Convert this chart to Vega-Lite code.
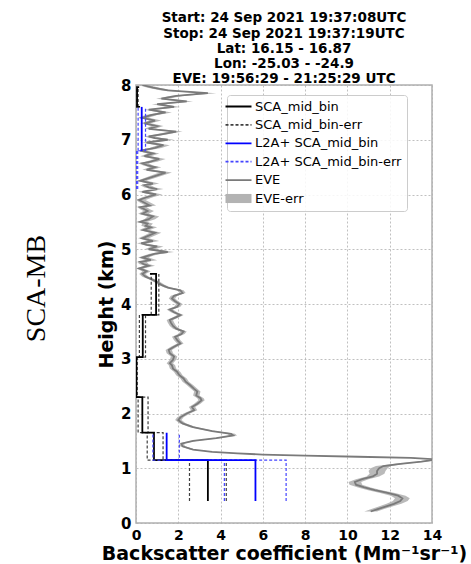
{
"$schema": "https://vega.github.io/schema/vega-lite/v6.json",
"width": 296, "height": 438,
"autosize": {"type": "none"},
"padding": {"left": 136, "top": 85, "right": 39, "bottom": 41},
"background": "white",
"config": {
  "view": {"stroke": "#b0b0b0", "strokeWidth": 1.5},
  "axis": {"labelFont": "DejaVu Sans", "titleFont": "DejaVu Sans", "labelColor": "black", "titleColor": "black"}
},
"title": {"text": ["Start: 24 Sep 2021 19:37:08UTC", "Stop: 24 Sep 2021 19:37:19UTC", "Lat: 16.15 - 16.87", "Lon: -25.03 - -24.9", "EVE: 19:56:29 - 21:25:29 UTC"], "font": "DejaVu Sans", "fontSize": 13.5, "fontWeight": "bold", "lineHeight": 15.3, "anchor": "middle", "frame": "group", "offset": -8, "color": "black"},
"datasets": {
"eve": [
{"h":0.21,"v":11.1,"lo":10.8,"hi":11.4},{"h":0.25,"v":11.4,"lo":11.1,"hi":11.7},{"h":0.30,"v":11.8,"lo":11.48,"hi":12.12},{"h":0.35,"v":12.2,"lo":11.85,"hi":12.55},{"h":0.40,"v":12.5,"lo":12.15,"hi":12.85},{"h":0.45,"v":12.6,"lo":12.25,"hi":12.95},{"h":0.50,"v":12.4,"lo":12.05,"hi":12.75},{"h":0.55,"v":11.9,"lo":11.55,"hi":12.25},{"h":0.60,"v":11.3,"lo":10.98,"hi":11.62},{"h":0.65,"v":10.8,"lo":10.5,"hi":11.1},{"h":0.70,"v":10.4,"lo":10.1,"hi":10.7},{"h":0.75,"v":10.35,"lo":10.05,"hi":10.65},{"h":0.80,"v":10.7,"lo":10.4,"hi":11.0},{"h":0.85,"v":11.2,"lo":10.9,"hi":11.5},{"h":0.90,"v":11.4,"lo":11.05,"hi":11.75},{"h":0.95,"v":11.4,"lo":11.0,"hi":11.8},{"h":1.00,"v":11.5,"lo":11.1,"hi":11.9},{"h":1.04,"v":11.7,"lo":11.35,"hi":12.05},{"h":1.08,"v":12.5,"lo":12.25,"hi":12.75},{"h":1.12,"v":13.5,"lo":13.3,"hi":13.7},{"h":1.16,"v":14.2,"lo":14.0,"hi":14.4},{"h":1.19,"v":13.0,"lo":12.85,"hi":13.15},{"h":1.21,"v":10.5,"lo":10.4,"hi":10.6},{"h":1.23,"v":8.0,"lo":7.9,"hi":8.1},{"h":1.25,"v":6.0,"lo":5.9,"hi":6.1},{"h":1.27,"v":4.8,"lo":4.7,"hi":4.9},{"h":1.30,"v":3.6,"lo":3.5,"hi":3.7},{"h":1.34,"v":2.7,"lo":2.58,"hi":2.82},{"h":1.40,"v":2.2,"lo":2.08,"hi":2.32},{"h":1.45,"v":2.15,"lo":2.03,"hi":2.27},{"h":1.50,"v":2.7,"lo":2.55,"hi":2.85},{"h":1.55,"v":3.8,"lo":3.65,"hi":3.95},{"h":1.60,"v":4.6,"lo":4.42,"hi":4.78},{"h":1.63,"v":4.5,"lo":4.32,"hi":4.68},{"h":1.68,"v":3.6,"lo":3.45,"hi":3.75},{"h":1.75,"v":2.7,"lo":2.55,"hi":2.85},{"h":1.82,"v":2.2,"lo":2.05,"hi":2.35},{"h":1.88,"v":2.0,"lo":1.85,"hi":2.15},{"h":1.93,"v":2.1,"lo":1.95,"hi":2.25},{"h":2.00,"v":2.4,"lo":2.25,"hi":2.55},{"h":2.06,"v":2.75,"lo":2.6,"hi":2.9},{"h":2.12,"v":2.65,"lo":2.5,"hi":2.8},{"h":2.18,"v":2.9,"lo":2.75,"hi":3.05},{"h":2.24,"v":3.1,"lo":2.95,"hi":3.25},{"h":2.28,"v":3.05,"lo":2.9,"hi":3.2},{"h":2.33,"v":2.85,"lo":2.7,"hi":3.0},{"h":2.40,"v":2.9,"lo":2.75,"hi":3.05},{"h":2.45,"v":2.75,"lo":2.6,"hi":2.9},{"h":2.52,"v":2.55,"lo":2.4,"hi":2.7},{"h":2.58,"v":2.35,"lo":2.2,"hi":2.5},{"h":2.64,"v":2.25,"lo":2.1,"hi":2.4},{"h":2.70,"v":2.05,"lo":1.9,"hi":2.2},{"h":2.76,"v":1.95,"lo":1.8,"hi":2.1},{"h":2.82,"v":1.75,"lo":1.6,"hi":1.9},{"h":2.88,"v":1.7,"lo":1.55,"hi":1.85},{"h":2.92,"v":1.6,"lo":1.45,"hi":1.75},{"h":2.98,"v":1.75,"lo":1.6,"hi":1.9},{"h":3.04,"v":1.8,"lo":1.65,"hi":1.95},{"h":3.10,"v":1.6,"lo":1.45,"hi":1.75},{"h":3.16,"v":1.55,"lo":1.4,"hi":1.7},{"h":3.22,"v":1.8,"lo":1.65,"hi":1.95},{"h":3.28,"v":2.1,"lo":1.95,"hi":2.25},{"h":3.34,"v":1.95,"lo":1.8,"hi":2.1},{"h":3.40,"v":1.85,"lo":1.7,"hi":2.0},{"h":3.45,"v":2.15,"lo":2.0,"hi":2.3},{"h":3.50,"v":2.25,"lo":2.1,"hi":2.4},{"h":3.55,"v":1.9,"lo":1.75,"hi":2.05},{"h":3.60,"v":1.75,"lo":1.6,"hi":1.9},{"h":3.66,"v":1.65,"lo":1.5,"hi":1.8},{"h":3.71,"v":1.6,"lo":1.45,"hi":1.75},{"h":3.76,"v":1.9,"lo":1.75,"hi":2.05},{"h":3.80,"v":2.1,"lo":1.95,"hi":2.25},{"h":3.85,"v":1.8,"lo":1.65,"hi":1.95},{"h":3.90,"v":1.6,"lo":1.45,"hi":1.75},{"h":3.95,"v":1.95,"lo":1.8,"hi":2.1},{"h":4.00,"v":2.05,"lo":1.9,"hi":2.2},{"h":4.05,"v":1.85,"lo":1.7,"hi":2.0},{"h":4.10,"v":1.7,"lo":1.55,"hi":1.85},{"h":4.15,"v":1.8,"lo":1.65,"hi":1.95},{"h":4.20,"v":2.2,"lo":2.05,"hi":2.35},{"h":4.25,"v":2.1,"lo":1.95,"hi":2.25},{"h":4.30,"v":1.5,"lo":1.35,"hi":1.65},{"h":4.35,"v":1.2,"lo":1.05,"hi":1.35},{"h":4.40,"v":1.0,"lo":0.85,"hi":1.15},{"h":4.45,"v":0.75,"lo":0.6,"hi":0.9},{"h":4.50,"v":0.45,"lo":0.3,"hi":0.6},{"h":4.55,"v":0.3,"lo":0.15,"hi":0.45},{"h":4.60,"v":0.5,"lo":0.3,"hi":0.7},{"h":4.65,"v":0.15,"lo":0.0,"hi":0.35},
{"h":4.70,"v":0.6,"lo":0.4,"hi":0.9},{"h":4.73,"v":0.35,"lo":0.15,"hi":0.6},{"h":4.77,"v":0.2,"lo":0.05,"hi":0.5},{"h":4.80,"v":0.7,"lo":0.45,"hi":1.0},{"h":4.85,"v":0.3,"lo":0.1,"hi":0.6},{"h":4.88,"v":0.55,"lo":0.35,"hi":0.8},{"h":4.92,"v":0.9,"lo":0.65,"hi":1.2},{"h":4.95,"v":1.5,"lo":1.2,"hi":1.8},{"h":5.00,"v":0.6,"lo":0.4,"hi":0.9},{"h":5.05,"v":1.0,"lo":0.75,"hi":1.3},{"h":5.08,"v":0.5,"lo":0.3,"hi":0.8},{"h":5.11,"v":0.25,"lo":0.05,"hi":0.5},{"h":5.15,"v":0.8,"lo":0.55,"hi":1.1},{"h":5.20,"v":0.3,"lo":0.1,"hi":0.6},{"h":5.25,"v":0.6,"lo":0.4,"hi":0.9},{"h":5.30,"v":0.9,"lo":0.65,"hi":1.2},{"h":5.35,"v":0.35,"lo":0.15,"hi":0.65},{"h":5.40,"v":0.7,"lo":0.45,"hi":1.0},{"h":5.43,"v":0.45,"lo":0.25,"hi":0.7},{"h":5.47,"v":0.55,"lo":0.3,"hi":0.8},{"h":5.50,"v":0.2,"lo":0.05,"hi":0.5},{"h":5.55,"v":0.6,"lo":0.4,"hi":0.9},{"h":5.60,"v":0.8,"lo":0.55,"hi":1.1},{"h":5.65,"v":0.3,"lo":0.1,"hi":0.6},{"h":5.70,"v":0.55,"lo":0.35,"hi":0.85},{"h":5.73,"v":0.4,"lo":0.2,"hi":0.65},{"h":5.77,"v":0.2,"lo":0.05,"hi":0.5},{"h":5.80,"v":0.65,"lo":0.45,"hi":0.95},{"h":5.85,"v":0.4,"lo":0.2,"hi":0.7},{"h":5.90,"v":0.15,"lo":0.0,"hi":0.45},{"h":5.95,"v":0.5,"lo":0.3,"hi":0.8},{"h":6.00,"v":0.95,"lo":0.7,"hi":1.25},{"h":6.05,"v":0.3,"lo":0.1,"hi":0.6},{"h":6.10,"v":1.0,"lo":0.75,"hi":1.3},{"h":6.13,"v":0.6,"lo":0.4,"hi":0.9},{"h":6.17,"v":0.4,"lo":0.2,"hi":0.7},{"h":6.20,"v":0.8,"lo":0.55,"hi":1.1},{"h":6.25,"v":0.2,"lo":0.05,"hi":0.5},{"h":6.30,"v":0.6,"lo":0.4,"hi":0.9},{"h":6.35,"v":1.0,"lo":0.75,"hi":1.3},{"h":6.40,"v":1.4,"lo":1.1,"hi":1.7},{"h":6.45,"v":0.5,"lo":0.3,"hi":0.8},{"h":6.50,"v":0.9,"lo":0.65,"hi":1.2},{"h":6.53,"v":0.55,"lo":0.35,"hi":0.8},{"h":6.57,"v":0.3,"lo":0.1,"hi":0.6},{"h":6.60,"v":0.7,"lo":0.45,"hi":1.0},{"h":6.65,"v":1.1,"lo":0.85,"hi":1.4},{"h":6.70,"v":0.4,"lo":0.2,"hi":0.7},{"h":6.75,"v":0.8,"lo":0.55,"hi":1.1},{"h":6.80,"v":0.2,"lo":0.05,"hi":0.5},{"h":6.85,"v":0.9,"lo":0.65,"hi":1.2},{"h":6.90,"v":1.3,"lo":1.0,"hi":1.6},{"h":6.95,"v":0.5,"lo":0.3,"hi":0.8},{"h":7.00,"v":1.5,"lo":1.2,"hi":1.8},{"h":7.03,"v":0.9,"lo":0.65,"hi":1.2},{"h":7.06,"v":0.6,"lo":0.4,"hi":0.9},{"h":7.10,"v":1.2,"lo":0.95,"hi":1.5},{"h":7.15,"v":1.9,"lo":1.6,"hi":2.2},{"h":7.20,"v":0.6,"lo":0.4,"hi":0.9},{"h":7.25,"v":1.0,"lo":0.75,"hi":1.3},{"h":7.30,"v":0.4,"lo":0.2,"hi":0.7},{"h":7.35,"v":0.9,"lo":0.65,"hi":1.2},{"h":7.40,"v":0.3,"lo":0.1,"hi":0.6},{"h":7.45,"v":0.7,"lo":0.45,"hi":1.0},{"h":7.50,"v":1.4,"lo":1.1,"hi":1.7},{"h":7.55,"v":0.6,"lo":0.4,"hi":0.9},{"h":7.60,"v":1.8,"lo":1.5,"hi":2.1},{"h":7.65,"v":1.0,"lo":0.75,"hi":1.3},{"h":7.70,"v":2.4,"lo":2.1,"hi":2.7},{"h":7.75,"v":1.2,"lo":0.95,"hi":1.5},{"h":7.80,"v":1.9,"lo":1.6,"hi":2.2},{"h":7.85,"v":3.4,"lo":3.1,"hi":3.8},{"h":7.90,"v":1.5,"lo":1.2,"hi":1.8},{"h":7.95,"v":0.8,"lo":0.55,"hi":1.1},{"h":8.00,"v":0.3,"lo":0.1,"hi":0.6}
],
"steps": [
{"s":"SCA_mid_bin-err","g":"b","h":0.4,"v":2.53},{"s":"SCA_mid_bin-err","g":"b","h":1.15,"v":0.53},{"s":"SCA_mid_bin-err","g":"b","h":1.65,"v":0.1},{"s":"SCA_mid_bin-err","g":"b","h":2.3,"v":0.0},{"s":"SCA_mid_bin-err","g":"b","h":3.03,"v":0.16},{"s":"SCA_mid_bin-err","g":"b","h":3.8,"v":0.72},{"s":"SCA_mid_bin-err","g":"b","h":4.55,"v":0.72},
{"s":"SCA_mid_bin-err","g":"c","h":0.4,"v":4.27},{"s":"SCA_mid_bin-err","g":"c","h":1.15,"v":1.28},{"s":"SCA_mid_bin-err","g":"c","h":1.65,"v":0.57},{"s":"SCA_mid_bin-err","g":"c","h":2.3,"v":0.06},{"s":"SCA_mid_bin-err","g":"c","h":3.03,"v":0.45},{"s":"SCA_mid_bin-err","g":"c","h":3.8,"v":1.08},{"s":"SCA_mid_bin-err","g":"c","h":4.55,"v":1.08},
{"s":"SCA_mid_bin-err","g":"b2","h":7.6,"v":0.0},{"s":"SCA_mid_bin-err","g":"b2","h":7.96,"v":0.0},
{"s":"SCA_mid_bin-err","g":"c2","h":7.6,"v":0.1},{"s":"SCA_mid_bin-err","g":"c2","h":7.96,"v":0.1},
{"s":"SCA_mid_bin","g":"a","h":0.4,"v":3.4},{"s":"SCA_mid_bin","g":"a","h":1.15,"v":0.85},{"s":"SCA_mid_bin","g":"a","h":1.65,"v":0.3},{"s":"SCA_mid_bin","g":"a","h":2.3,"v":0.02},{"s":"SCA_mid_bin","g":"a","h":3.03,"v":0.32},{"s":"SCA_mid_bin","g":"a","h":3.8,"v":0.95},{"s":"SCA_mid_bin","g":"a","h":4.55,"v":0.66},
{"s":"SCA_mid_bin","g":"a2","h":7.59,"v":0.15},{"s":"SCA_mid_bin","g":"a2","h":7.6,"v":0.05},{"s":"SCA_mid_bin","g":"a2","h":7.96,"v":0.15},
{"s":"L2A+ SCA_mid_bin-err","g":"f","h":0.4,"v":4.18},{"s":"L2A+ SCA_mid_bin-err","g":"f","h":1.15,"v":0.8},{"s":"L2A+ SCA_mid_bin-err","g":"f","h":1.65,"v":0.8},
{"s":"L2A+ SCA_mid_bin-err","g":"i","h":0.4,"v":7.1},{"s":"L2A+ SCA_mid_bin-err","g":"i","h":1.15,"v":2.05},{"s":"L2A+ SCA_mid_bin-err","g":"i","h":1.65,"v":2.05},
{"s":"L2A+ SCA_mid_bin-err","g":"k","h":6.1,"v":0.02},{"s":"L2A+ SCA_mid_bin-err","g":"k","h":6.8,"v":0.1},{"s":"L2A+ SCA_mid_bin-err","g":"k","h":7.6,"v":0.1},
{"s":"L2A+ SCA_mid_bin-err","g":"j","h":6.1,"v":0.08},{"s":"L2A+ SCA_mid_bin-err","g":"j","h":6.8,"v":0.45},{"s":"L2A+ SCA_mid_bin-err","g":"j","h":7.6,"v":0.45},
{"s":"L2A+ SCA_mid_bin","g":"d","h":0.4,"v":5.65},{"s":"L2A+ SCA_mid_bin","g":"d","h":1.15,"v":1.45},{"s":"L2A+ SCA_mid_bin","g":"d","h":1.65,"v":1.45},
{"s":"L2A+ SCA_mid_bin","g":"e","h":6.8,"v":0.27},{"s":"L2A+ SCA_mid_bin","g":"e","h":7.6,"v":0.27}
]
},
"layer": [
{
 "data": {"name": "eve"},
 "mark": {"type": "area", "orient": "horizontal", "clip": true, "opacity": 0.9},
 "encoding": {
  "y": {"field": "h", "type": "quantitative", "scale": {"domain": [0, 8], "nice": false},
        "axis": {"title": "Height (km)", "values": [0,1,2,3,4,5,6,7,8], "titleFontSize": 19, "titleFontWeight": "bold", "labelFontSize": 15, "labelFontWeight": "bold", "ticks": false, "domain": false, "grid": true, "gridColor": "#b0b0b0", "gridDash": [2,2], "gridWidth": 0.8, "labelPadding": 5, "titlePadding": 4, "labelFlush": false}},
  "x": {"field": "lo", "type": "quantitative", "scale": {"domain": [0, 14], "nice": false},
        "axis": {"title": "Backscatter coefficient (Mm⁻¹sr⁻¹)", "values": [0,1,2,3,4,5,6,7,8,9,10,11,12,13,14], "titleFontSize": 19, "titleFontWeight": "bold", "labelFontSize": 14, "labelFontWeight": "bold", "labelOverlap": false, "labelFlush": false, "labelBound": false, "ticks": false, "domain": false, "grid": true, "gridColor": "#b0b0b0", "gridDash": [2,2], "gridWidth": 0.8, "labelPadding": 5, "titlePadding": 2}},
  "x2": {"field": "hi"},
  "color": {"datum": "EVE-err", "type": "nominal",
    "scale": {"domain": ["SCA_mid_bin", "SCA_mid_bin-err", "L2A+ SCA_mid_bin", "L2A+ SCA_mid_bin-err", "EVE", "EVE-err"], "range": ["#000000", "#404040", "#0000ff", "#4444ff", "#7a7a7a", "#b3b3b3"]},
    "legend": {"title": null, "orient": "none", "legendX": 91, "legendY": 10, "symbolType": "stroke", "symbolSize": 676, "symbolStrokeWidth": 1.8, "symbolOpacity": 1, "labelFont": "DejaVu Sans", "labelFontSize": 13, "labelColor": "black", "labelOffset": 10, "strokeColor": "#cccccc", "fillColor": "rgba(255,255,255,0.85)", "cornerRadius": 3, "padding": 5, "rowPadding": 4.4,
      "encode": {"symbols": {"update": {
        "shape": {"signal": "datum.value === 'EVE-err' ? 'M-1,-0.35H1V0.35H-1Z' : 'stroke'"},
        "fill": {"signal": "datum.value === 'EVE-err' ? '#b3b3b3' : 'transparent'"},
        "strokeWidth": {"signal": "datum.value === 'EVE-err' ? 0 : 1.8"},
        "strokeDash": {"signal": "indexof(datum.value, 'bin-err') >= 0 ? [3, 2] : [1, 0]"}}}}}}
 }
},
{
 "data": {"name": "eve"},
 "mark": {"type": "line", "clip": true, "strokeWidth": 1.8},
 "encoding": {
  "y": {"field": "h", "type": "quantitative", "axis": {"orient": "left", "offset": 86, "title": "SCA-MB", "titleFont": "Liberation Serif", "titleFontSize": 28, "titleFontWeight": "normal", "labels": false, "ticks": false, "domain": false, "grid": false, "titlePadding": 0, "titleY": 203}},
  "x": {"field": "v", "type": "quantitative"},
  "order": {"field": "h", "type": "quantitative"},
  "color": {"datum": "EVE", "type": "nominal"}
 }
},
{
 "data": {"name": "steps"},
 "transform": [{"filter": "datum.s === 'SCA_mid_bin-err'"}],
 "mark": {"type": "line", "interpolate": "step-before", "clip": true, "strokeWidth": 1.2, "strokeDash": [3, 2]},
 "encoding": {
  "y": {"field": "h", "type": "quantitative", "axis": null},
  "x": {"field": "v", "type": "quantitative"},
  "detail": {"field": "g"},
  "order": {"field": "h", "type": "quantitative"},
  "color": {"datum": "SCA_mid_bin-err", "type": "nominal"}
 }
},
{
 "data": {"name": "steps"},
 "transform": [{"filter": "datum.s === 'SCA_mid_bin'"}],
 "mark": {"type": "line", "interpolate": "step-before", "clip": true, "strokeWidth": 1.8},
 "encoding": {
  "y": {"field": "h", "type": "quantitative", "axis": null},
  "x": {"field": "v", "type": "quantitative"},
  "detail": {"field": "g"},
  "order": {"field": "h", "type": "quantitative"},
  "color": {"datum": "SCA_mid_bin", "type": "nominal"}
 }
},
{
 "data": {"name": "steps"},
 "transform": [{"filter": "datum.s === 'L2A+ SCA_mid_bin-err'"}],
 "mark": {"type": "line", "interpolate": "step-before", "clip": true, "strokeWidth": 1.2, "strokeDash": [3, 2]},
 "encoding": {
  "y": {"field": "h", "type": "quantitative", "axis": null},
  "x": {"field": "v", "type": "quantitative"},
  "detail": {"field": "g"},
  "order": {"field": "h", "type": "quantitative"},
  "color": {"datum": "L2A+ SCA_mid_bin-err", "type": "nominal"}
 }
},
{
 "data": {"name": "steps"},
 "transform": [{"filter": "datum.s === 'L2A+ SCA_mid_bin'"}],
 "mark": {"type": "line", "interpolate": "step-before", "clip": true, "strokeWidth": 1.8},
 "encoding": {
  "y": {"field": "h", "type": "quantitative", "axis": null},
  "x": {"field": "v", "type": "quantitative"},
  "detail": {"field": "g"},
  "order": {"field": "h", "type": "quantitative"},
  "color": {"datum": "L2A+ SCA_mid_bin", "type": "nominal"}
 }
}
],
"resolve": {"axis": {"y": "independent"}}
}
